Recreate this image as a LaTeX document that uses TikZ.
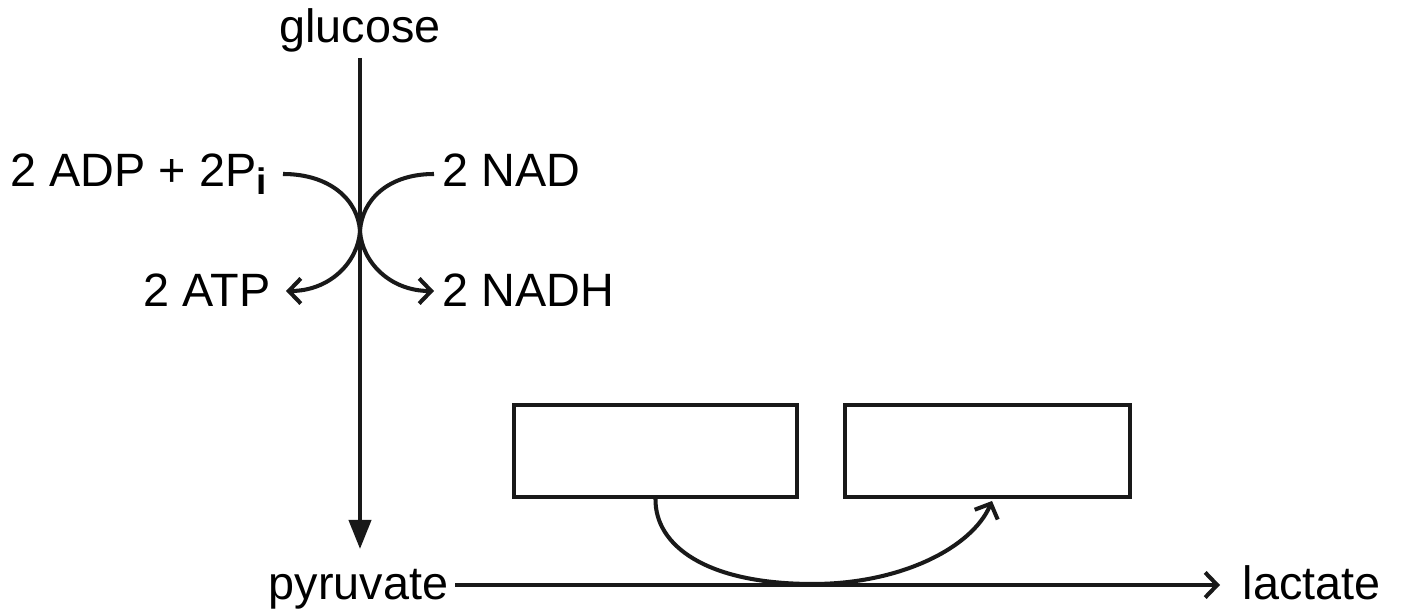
\documentclass[tikz,border=0pt]{standalone}
\usepackage{fontspec}
\setmainfont{Liberation Sans}
\usetikzlibrary{arrows.meta}
\tikzset{
  lbl/.style={inner sep=0pt, font=\fontsize{13.3}{15}\selectfont},
  ln/.style={line width=1.15pt, draw=black!90},
  barb/.style={ln, -{Straight Barb[length=0.12cm,width=0.25cm,line width=1.15pt]}},
  solidarr/.style={ln, -{Triangle[length=0.29cm,width=0.22cm]}},
  emptybox/.style={ln, draw, rectangle, inner sep=0pt},
}
\begin{document}
\begin{tikzpicture}[x=0.01cm,y=-0.01cm]
\useasboundingbox (0,0) rectangle (1402,610);
% labels
\node[lbl, anchor=base] (glucose) at (360,43) {glucose};
\node[lbl, anchor=base west] (pyruvate) at (268,600) {pyruvate};
\node[lbl, anchor=base west] (lactate) at (1242,600) {lactate};
\node[lbl, anchor=base west] (adp) at (10,187) {2 ADP + 2P\raisebox{-0.08cm}{\fontsize{10.5}{12}\selectfont\bfseries i}};
\node[lbl, anchor=base west] (nad) at (442,187) {2 NAD};
\node[lbl, anchor=base west] (atp) at (143,307) {2 ATP};
\node[lbl, anchor=base west] (nadh) at (442,307) {2 NADH};
% boxes
\node[emptybox, minimum width=2.83cm, minimum height=0.92cm] (box1) at (655.5,451) {};
\node[emptybox, minimum width=2.85cm, minimum height=0.92cm] (box2) at (987.5,451) {};
% connector end points
\coordinate (vtop) at (360,58);
\coordinate (vbot) at (360,549);
\coordinate (hl) at (455,585);
\coordinate (hr) at (1220,585);
\coordinate (adpend) at (283,174);
\coordinate (nadend) at (434,174);
\coordinate (atpend) at (286,291);
\coordinate (nadhend) at (434,291);
\coordinate (mid) at (360,231);
\coordinate (low) at (813,584);
\coordinate (tip) at (992,501);
% main pathway
\draw[solidarr] (vtop) -- (vbot);
\draw[barb] (hl) -- (hr);
% coupled reactions
\draw[barb] (adpend) .. controls (330,174) and (358,200) .. (mid)
  .. controls (358,262) and (330,291) .. (atpend);
\draw[barb] (nadend) .. controls (388,174) and (362,200) .. (mid)
  .. controls (362,262) and (390,291) .. (nadhend);
% curved arrow between boxes
\draw[barb] (box1.south) .. controls (655,545) and (705,584) .. (low)
  .. controls (900,584) and (972,548) .. (tip);
\end{tikzpicture}
\end{document}
